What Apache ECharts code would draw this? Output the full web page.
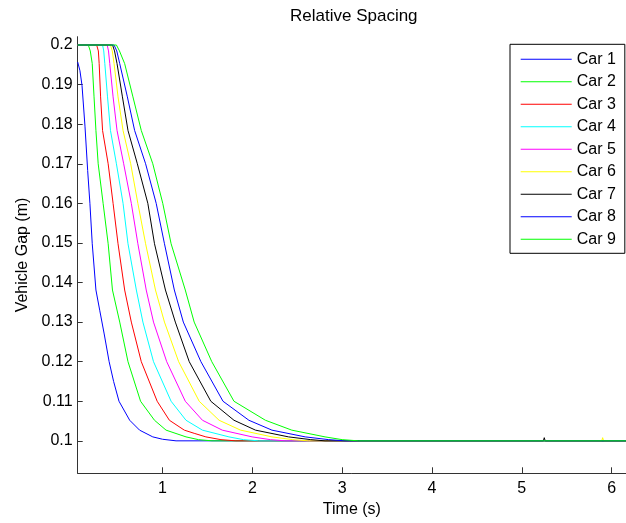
<!DOCTYPE html>
<html>
<head>
<meta charset="utf-8">
<script src="https://cdn.jsdelivr.net/npm/echarts@6/dist/echarts.min.js"></script>
<style>
html,body{margin:0;padding:0;background:#fff;}
#chart{width:626px;height:523px;}
</style>
</head>
<body>
<div id="chart"></div>
<script>
var seriesNames = ['Car 1','Car 2','Car 3','Car 4','Car 5','Car 6','Car 7','Car 8','Car 9'];
var seriesColors = ['#0000ff','#00ff00','#ff0000','#00ffff','#ff00ff','#ffff00','#000000','#0000ff','#00ff00'];
var xTicks = [1,2,3,4,5,6];
var yTicks = [0.1,0.11,0.12,0.13,0.14,0.15,0.16,0.17,0.18,0.19,0.2];

var car1 = [[0.055,0.1957],[0.08,0.1935],[0.103,0.1898],[0.136,0.1795],[0.166,0.1683],[0.191,0.160],[0.217,0.1498],[0.258,0.1381],[0.30,0.1330],[0.35,0.1270],[0.405,0.1200],[0.455,0.1150],[0.515,0.1100],[0.634,0.1052],[0.744,0.1027],[0.891,0.1010],[1.0,0.1004],[1.15,0.1000],[6.16,0.1000]];
var car2 = [[0.055,0.2],[0.173,0.2],[0.195,0.1985],[0.217,0.1953],[0.237,0.1869],[0.258,0.1784],[0.283,0.1700],[0.338,0.1600],[0.394,0.1498],[0.442,0.1381],[0.523,0.1300],[0.615,0.1200],[0.755,0.1100],[0.910,0.1052],[1.039,0.1027],[1.261,0.1010],[1.40,0.1003],[1.55,0.1000],[6.16,0.1000]];
var car3 = [[0.055,0.2],[0.266,0.2],[0.285,0.1985],[0.294,0.1953],[0.310,0.1869],[0.332,0.1784],[0.394,0.1700],[0.449,0.1600],[0.504,0.1498],[0.578,0.1381],[0.652,0.1300],[0.763,0.1200],[0.940,0.1100],[1.076,0.1052],[1.242,0.1027],[1.352,0.1019],[1.482,0.1010],[1.65,0.1003],[1.814,0.1000],[6.16,0.1000]];
var car4 = [[0.055,0.2],[0.332,0.2],[0.345,0.1985],[0.357,0.1953],[0.387,0.1869],[0.420,0.1784],[0.486,0.1700],[0.560,0.1600],[0.615,0.1498],[0.708,0.1381],[0.781,0.1300],[0.899,0.1200],[1.095,0.1100],[1.261,0.1052],[1.444,0.1027],[1.739,0.1010],[1.90,0.1003],[2.071,0.1000],[6.16,0.1000]];
var car5 = [[0.055,0.2],[0.383,0.2],[0.398,0.1985],[0.412,0.1953],[0.449,0.1869],[0.493,0.1784],[0.567,0.1700],[0.652,0.1600],[0.725,0.1498],[0.818,0.1381],[0.899,0.1300],[1.046,0.1200],[1.253,0.1100],[1.444,0.1052],[1.665,0.1027],[1.997,0.1010],[2.20,0.1003],[2.366,0.1000],[6.16,0.1000]];
var car6 = [[0.055,0.2],[0.420,0.2],[0.440,0.1985],[0.460,0.1953],[0.504,0.1869],[0.560,0.1784],[0.645,0.1700],[0.725,0.1600],[0.811,0.1498],[0.921,0.1381],[1.021,0.1300],[1.179,0.1200],[1.408,0.1100],[1.629,0.1052],[1.869,0.1027],[2.218,0.1010],[2.45,0.1003],[2.624,0.1000],[5.89,0.1000],[5.90,0.1008],[5.91,0.1000],[6.16,0.1000]];
var car7 = [[0.055,0.2],[0.443,0.2],[0.465,0.1985],[0.493,0.1953],[0.553,0.1869],[0.615,0.1784],[0.719,0.1700],[0.836,0.1600],[0.910,0.1498],[1.032,0.1381],[1.142,0.1300],[1.297,0.1200],[1.537,0.1100],[1.795,0.1052],[2.035,0.1027],[2.403,0.1010],[2.65,0.1003],[2.809,0.1000],[5.24,0.1000],[5.25,0.1008],[5.26,0.1000],[6.16,0.1000]];
var car8 = [[0.055,0.2],[0.460,0.2],[0.490,0.1985],[0.523,0.1953],[0.608,0.1869],[0.689,0.1784],[0.811,0.1700],[0.929,0.1600],[1.021,0.1498],[1.131,0.1381],[1.231,0.1300],[1.427,0.1200],[1.673,0.1100],[1.961,0.1052],[2.218,0.1027],[2.588,0.1010],[2.85,0.1003],[3.03,0.1000],[6.16,0.1000]];
var car9 = [[0.055,0.2],[0.486,0.2],[0.520,0.1985],[0.578,0.1953],[0.670,0.1869],[0.763,0.1784],[0.891,0.1700],[1.002,0.1600],[1.095,0.1498],[1.253,0.1381],[1.352,0.1300],[1.548,0.1200],[1.795,0.1100],[2.145,0.1052],[2.439,0.1027],[2.809,0.1010],[3.00,0.1003],[3.18,0.1000],[6.16,0.1000]];

var cars = [car1,car2,car3,car4,car5,car6,car7,car8,car9];

var chart = echarts.init(document.getElementById('chart'), null, {renderer:'canvas'});
var FONT = 'Liberation Sans, Arial, sans-serif';
var series = cars.map(function(d,i){
  return {
    name: seriesNames[i], type:'line', data:d, showSymbol:false, symbol:'none',
    lineStyle:{color:seriesColors[i], width:1}, itemStyle:{color:seriesColors[i]},
    animation:false, z: 2+i
  };
});
chart.setOption({
  animation:false,
  backgroundColor:'#fff',
  title:{text:'Relative Spacing', left:290, top:8, padding:0,
    textStyle:{fontFamily:FONT, fontSize:17, fontWeight:'normal', color:'#000'}},
  grid:{left:77.7, top:36.7, width:552.3, height:436.6, containLabel:false},
  legend:{
    orient:'vertical', left:510, top:44.3, padding:[7,9,6,10.7],
    backgroundColor:'#fff', borderColor:'#000', borderWidth:1, borderRadius:0,
    icon:'rect', itemWidth:51, itemHeight:1, itemGap:6.5,
    textStyle:{fontFamily:FONT, fontSize:16, color:'#000', lineHeight:16},
    data: seriesNames
  },
  xAxis:{
    type:'value', min:0.055, max:6.16,
    name:'Time (s)', nameLocation:'middle', nameGap:28,
    nameTextStyle:{fontFamily:FONT, fontSize:16, color:'#000'},
    axisLine:{lineStyle:{color:'#333', width:1}},
    axisTick:{inside:true, length:6, customValues:xTicks, lineStyle:{color:'#333'}},
    axisLabel:{customValues:xTicks, margin:7, fontFamily:FONT, fontSize:16, color:'#000'},
    splitLine:{show:false}
  },
  yAxis:{
    type:'value', min:0.0918, max:0.2021,
    name:'Vehicle Gap (m)', nameLocation:'middle', nameGap:47, nameRotate:90,
    nameTextStyle:{fontFamily:FONT, fontSize:16, color:'#000'},
    axisLine:{show:true, lineStyle:{color:'#333', width:1}},
    axisTick:{show:true, inside:true, length:5, customValues:yTicks, lineStyle:{color:'#333'}},
    axisLabel:{customValues:yTicks, margin:5, fontFamily:FONT, fontSize:16, color:'#000',
      formatter:function(v){return String(v);}},
    splitLine:{show:false}
  },
  series: series
});
</script>
</body>
</html>
